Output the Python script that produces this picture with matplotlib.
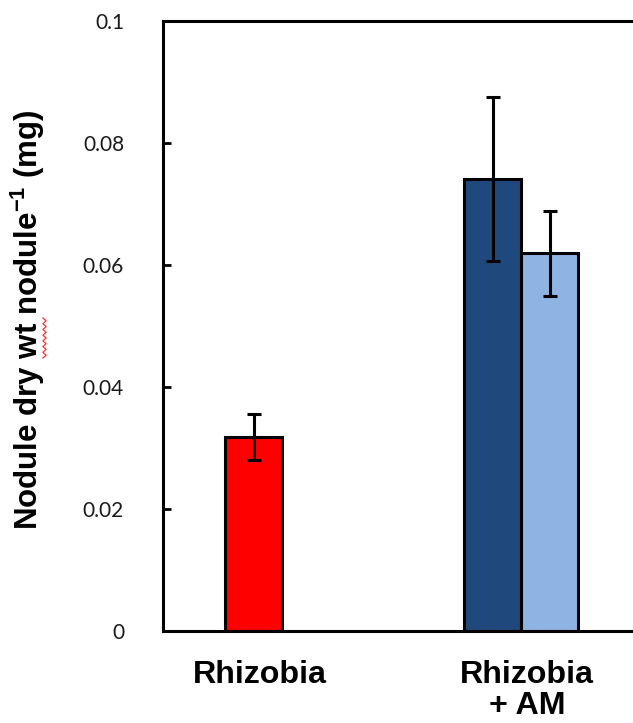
import matplotlib
matplotlib.use("Agg")
import matplotlib.pyplot as plt
import matplotlib.transforms as mtransforms
import numpy as np

plt.rcParams["mathtext.fontset"] = "custom"
plt.rcParams["mathtext.bf"] = "Liberation Sans:bold"
plt.rcParams["mathtext.rm"] = "Liberation Sans"

# Nodule dry weight per nodule (mg)
categories = ["Rhizobia", "Rhizobia\n+ AM"]
rhizobia_mean = [0.0318]
rhizobia_err = [0.0038]
am_dark_mean = [0.0741]
am_dark_err = [0.0135]
am_light_mean = [0.0619]
am_light_err = [0.0070]
yticks = [0, 0.02, 0.04, 0.06, 0.08, 0.1]
ytick_labels = ["0", "0.02", "0.04", "0.06", "0.08", "0.1"]

W, H = 633, 723
fig = plt.figure(figsize=(W / 100, H / 100), dpi=100)
ax = fig.add_axes([163 / W, 92 / H, 492 / W, 610 / H])

width = 0.213
x = np.arange(len(categories))
edge = dict(edgecolor="black", linewidth=2.2)
err_kw = dict(elinewidth=2.2, capthick=2.2, capsize=5, ecolor="black")

ax.bar(x[0], rhizobia_mean, width, color="#FF0000", yerr=rhizobia_err,
       error_kw=err_kw, **edge, zorder=2)
ax.bar(x[1] - width / 2, am_dark_mean, width, color="#1F497D", yerr=am_dark_err,
       error_kw=err_kw, **edge, zorder=2)
ax.bar(x[1] + width / 2, am_light_mean, width, color="#8EB4E3", yerr=am_light_err,
       error_kw=err_kw, **edge, zorder=2)

ax.set_xlim(-0.34, 1.5)
ax.set_ylim(0, 0.1)
ax.set_yticks(yticks)
ax.set_yticklabels(ytick_labels, fontfamily="Lato", fontsize=15, color="#1a1a1a")
ax.tick_params(axis="y", direction="in", length=6, width=2, pad=28)
ax.set_xticks(x)
ax.set_xticklabels(categories, fontfamily="Liberation Sans", fontweight="bold",
                   fontsize=23.2, linespacing=1.03)
ax.tick_params(axis="x", length=0, pad=21)
shift = mtransforms.ScaledTranslation(6 / 100, 0, fig.dpi_scale_trans)
for lab in ax.get_xticklabels():
    lab.set_transform(lab.get_transform() + shift)

for side in ["left", "top", "bottom", "right"]:
    ax.spines[side].set_linewidth(2.2)

fig.text(28 / W, 1 - 320 / H,
         "Nodule dry wt nodule$^{\\mathbf{-1}}$ (mg)",
         rotation=90, ha="center", va="center",
         fontfamily="Liberation Sans", fontweight="bold", fontsize=22.5)

# red wavy spell-check underline beside "wt"
wy = np.linspace(318, 358, 15)
wx = 44.5 + 1.6 * np.where(np.arange(15) % 2 == 0, -1, 1)
fig.add_artist(plt.Line2D(wx / W, 1 - wy / H, color="#ff3030", linewidth=0.9,
                          transform=fig.transFigure))

fig.savefig("out.png", dpi=100)
